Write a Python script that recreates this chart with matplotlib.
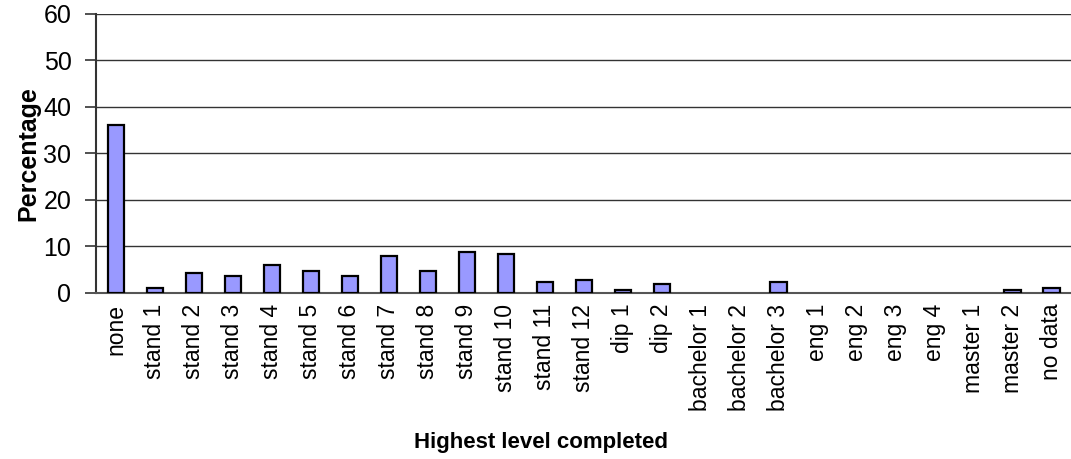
import matplotlib
matplotlib.use("Agg")
import matplotlib.pyplot as plt

# Share of respondents by highest level of education completed
categories = [
    "none", "stand 1", "stand 2", "stand 3", "stand 4", "stand 5", "stand 6",
    "stand 7", "stand 8", "stand 9", "stand 10", "stand 11", "stand 12",
    "dip 1", "dip 2", "bachelor 1", "bachelor 2", "bachelor 3",
    "eng 1", "eng 2", "eng 3", "eng 4", "master 1", "master 2", "no data",
]
percentages = [
    36.1, 1.0, 4.2, 3.7, 6.0, 4.6, 3.7,
    7.8, 4.6, 8.7, 8.3, 2.3, 2.7,
    0.5, 1.9, 0.0, 0.0, 2.3,
    0.0, 0.0, 0.0, 0.0, 0.0, 0.5, 1.1,
]
y_ticks = [0, 10, 20, 30, 40, 50, 60]

plt.rcParams["font.family"] = ["Liberation Sans", "DejaVu Sans"]

fig = plt.figure(figsize=(10.71, 4.59), dpi=100)
ax = fig.add_axes([0.0901, 0.3623, 0.9099, 0.6072])

x = list(range(len(categories)))
# empty categories get no outline so they leave no mark on the baseline
edges = ["black" if v > 0 else "none" for v in percentages]
ax.bar(x, percentages, width=0.42, color="#9999ff", edgecolor=edges,
       linewidth=1.6, zorder=3)

ax.set_xlim(-0.5, len(categories) - 0.5)
ax.set_ylim(0, 60)
ax.set_yticks(y_ticks)
ax.yaxis.grid(True, color="#333333", linewidth=1.0, zorder=0)
ax.set_axisbelow(True)

ax.set_xticks(x)
ax.set_xticklabels(categories, rotation=90, fontsize=16.5)
ax.tick_params(axis="x", length=0, pad=8)
ax.tick_params(axis="y", labelsize=18, length=8, width=1.2, color="#333333",
               direction="out", pad=10)

for side in ("top", "right"):
    ax.spines[side].set_visible(False)
ax.spines["left"].set_color("#333333")
ax.spines["left"].set_linewidth(1.5)
ax.spines["bottom"].set_color("#555555")
ax.spines["bottom"].set_linewidth(1.5)

ax.set_ylabel("Percentage", fontsize=18, fontweight="bold")
ax.yaxis.set_label_coords(-0.058, 0.5)
ax.set_xlabel("Highest level completed", fontsize=16, fontweight="bold")
ax.xaxis.set_label_coords(0.456, -0.5)

fig.savefig("out.png", dpi=100)
